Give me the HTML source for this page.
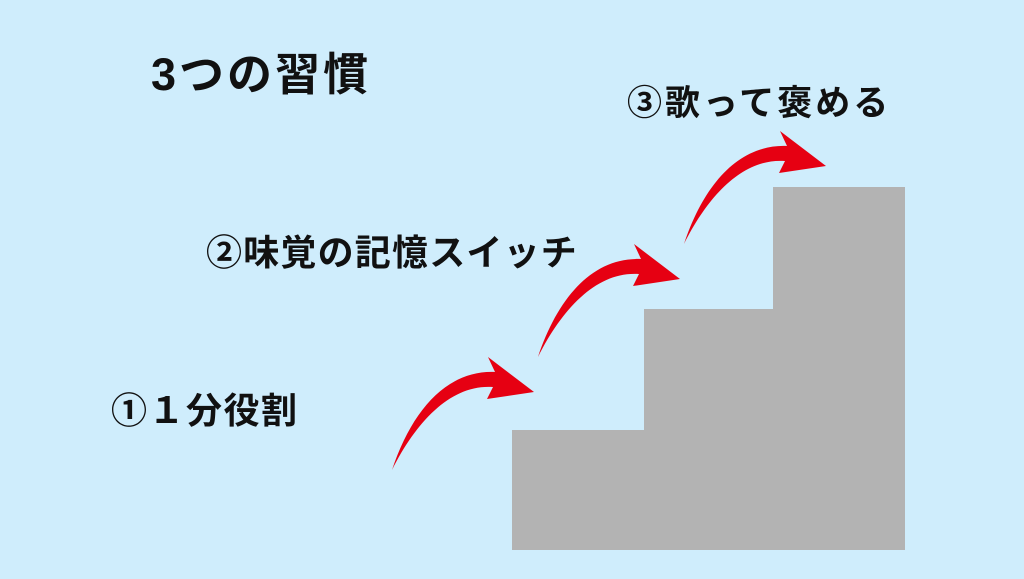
<!DOCTYPE html>
<html><head><meta charset="utf-8"><style>
html,body{margin:0;padding:0}
body{width:1024px;height:579px;background:#cfedfc;position:relative;overflow:hidden;font-family:"Liberation Sans","Noto Sans CJK JP",sans-serif;font-weight:bold;color:#111}
.t{position:absolute;white-space:nowrap;line-height:1}
</style></head><body>
<svg width="1024" height="579" style="position:absolute;left:0;top:0">
<rect x="512" y="430" width="393" height="120" fill="#b3b3b3"/>
<rect x="644" y="309" width="261" height="122" fill="#b3b3b3"/>
<rect x="773" y="187" width="132" height="123" fill="#b3b3b3"/>
<defs><path id="a" d="M0,0 C 20,-60 55,-100 103,-98 L96,-113 L142,-78 L95,-71 L101,-83 C 60,-86 25,-50 0,0 Z" fill="#e60012"/></defs>
<use href="#a" x="392" y="470"/>
<use href="#a" x="538" y="357"/>
<use href="#a" x="684" y="244"/>
</svg>
<div class="t" style="left:151px;top:52px;font-size:45px;letter-spacing:3px">3つの習慣</div>
<div class="t" style="left:627px;top:86px;font-size:35px;letter-spacing:3px">③歌って褒める</div>
<div class="t" style="left:206px;top:235px;font-size:36px;letter-spacing:1.2px">②味覚の記憶スイッチ</div>
<div class="t" style="left:111px;top:393px;font-size:36px;letter-spacing:1.5px">①１分役割</div>
</body></html>
